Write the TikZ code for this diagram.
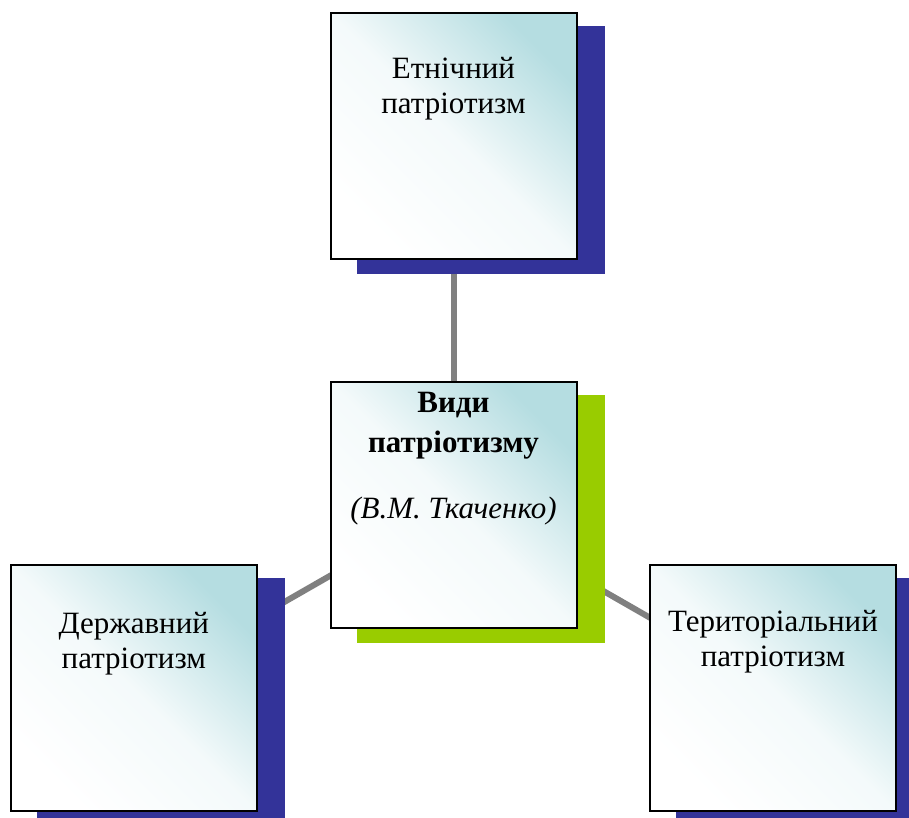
\documentclass[tikz,border=0pt]{standalone}
\usepackage{fontspec}
\setmainfont{Liberation Serif}
\usetikzlibrary{backgrounds}
\definecolor{shblue}{RGB}{51,51,153}
\definecolor{shgreen}{RGB}{153,204,0}
\definecolor{tealtop}{RGB}{181,221,225}
\definecolor{linkgray}{RGB}{128,128,128}
\begin{document}
\begin{tikzpicture}[x=1pt,y=-1pt,
  box/.style={rectangle,draw=black,line width=2pt,minimum width=246pt,minimum height=246pt,inner sep=0pt,
    top color=tealtop,bottom color=white,middle color=tealtop!15,shading angle=-45},
  txt/.style={anchor=north,align=center,inner sep=0pt,font=\fontsize{31}{35}\selectfont},
  link/.style={draw=linkgray,line width=6pt},
  shadowbox/.style={fill=#1}]
\useasboundingbox (0,0) rectangle (909,818);
\node[box] (top) at (453.5,136) {};
\node[box] (mid) at (453.5,505) {};
\node[box] (left) at (133.8,688.3) {};
\node[box] (right) at (773,688.3) {};
\node[txt] (ttop) at (453.5,53.5) {\strut Етнічний\\патріотизм};
\node[txt] (tmid) at (453.5,387.5) {\strut\textbf{Види}\\[5pt]\textbf{патріотизму}\\[31pt]\textit{(В.М. Ткаченко)}};
\node[txt] (tleft) at (133.8,608.5) {\strut Державний\\патріотизм};
\node[txt] (tright) at (773,607.2) {\strut Територіальний\\патріотизм};
\begin{pgfonlayer}{background}
\draw[link] (mid.center) -- (top.center);
\draw[link] (mid.center) -- (left.center);
\draw[link] (mid.center) -- (right.center);
\fill[shadowbox=shblue] ([shift={(27,14)}]top.south west) rectangle ([shift={(27,14)}]top.north east);
\fill[shadowbox=shgreen] ([shift={(27,14)}]mid.south west) rectangle ([shift={(27,14)}]mid.north east);
\fill[shadowbox=shblue] ([shift={(27,14)}]left.south west) rectangle ([shift={(27,14)}]left.north east);
\fill[shadowbox=shblue] ([shift={(27,14)}]right.south west) rectangle ([shift={(27,14)}]right.north east);
\end{pgfonlayer}
\end{tikzpicture}
\end{document}
